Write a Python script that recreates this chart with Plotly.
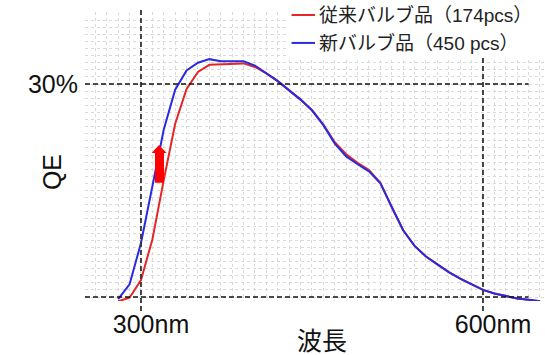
import plotly.graph_objects as go

# Wavelength samples (nm)
wavelength = [280, 290, 300, 310, 320, 330, 340, 350, 360, 370, 380, 390, 400,
              410, 420, 430, 440, 450, 460, 470, 480, 490, 500, 510, 520, 530,
              540, 550, 560, 570, 580, 590, 600, 610, 620, 630, 640, 650]

# Quantum efficiency (%) of the conventional bulb
qe_old = [-0.6, -0.1, 2.4, 8.1, 16.5, 24.4, 29.3, 31.7, 32.7, 32.8, 32.8, 32.9, 32.4,
          31.5, 30.4, 29.1, 27.8, 26.3, 24.3, 21.8, 20.1, 18.9, 17.9, 16.1, 12.6, 9.4,
          7.2, 5.7, 4.6, 3.5, 2.6, 1.8, 1.0, 0.5, 0.1, -0.2, -0.4, -0.6]

# Quantum efficiency (%) of the new bulb
qe_new = [-0.3, 1.8, 7.6, 15.5, 23.6, 29.2, 31.9, 33.0, 33.5, 33.2, 33.2, 33.2, 32.6,
          31.5, 30.4, 29.1, 27.8, 26.3, 24.2, 21.6, 19.8, 18.7, 17.7, 16.0, 12.6, 9.4,
          7.2, 5.7, 4.6, 3.5, 2.6, 1.8, 1.0, 0.5, 0.1, -0.2, -0.4, -0.6]

x_ticks = [300, 600]
x_tick_text = ["300nm", "600nm"]
y_ticks = [30]
y_tick_text = ["30%"]

legend_names = ["従来バルブ品（174pcs）", "新バルブ品（450 pcs）"]
colors = ["#e32626", "#2a2ae0"]

FONT = "Liberation Sans, Arial, Noto Sans CJK JP, sans-serif"
X_RANGE = [250.9, 654.4]
Y_RANGE = [-0.56, 40.14]

fig = go.Figure()
fig.add_trace(go.Scatter(x=wavelength, y=qe_old, mode="lines", name=legend_names[0],
                         line=dict(color=colors[0], width=2), showlegend=False))
fig.add_trace(go.Scatter(x=wavelength, y=qe_new, mode="lines", name=legend_names[1],
                         line=dict(color=colors[1], width=2), showlegend=False))

shapes = []
# reference dashed lines at 300 nm / 600 nm and 0 % / 30 %
for xv in x_ticks:
    shapes.append(dict(type="line", xref="x", yref="paper", x0=xv, x1=xv,
                       y0=-0.035, y1=1.014, layer="above",
                       line=dict(color="#333333", width=1.8, dash="5px,3px")))
for yv in [0, 30]:
    shapes.append(dict(type="line", xref="x", yref="y", x0=X_RANGE[0], x1=640,
                       y0=yv, y1=yv, layer="above",
                       line=dict(color="#111111", width=1.5, dash="5px,3px")))

# legend panel
shapes.append(dict(type="rect", xref="paper", yref="paper", x0=0.437, x1=1.0,
                   y0=0.841, y1=1.05, fillcolor="white", line=dict(width=0),
                   layer="above"))
legend_y = [0.9896, 0.893]
for c, ly in zip(colors, legend_y):
    shapes.append(dict(type="line", xref="paper", yref="paper", x0=0.449, x1=0.5,
                       y0=ly, y1=ly, layer="above", line=dict(color=c, width=2)))

# upward arrow marking the improvement
arrow_path = ("M 312.3 16.1 L 320.2 16.1 L 320.2 20.3 L 322.5 20.3 "
              "L 315.8 21.4 L 309.4 20.3 L 312.3 20.3 Z")
shapes.append(dict(type="path", xref="x", yref="y", path=arrow_path,
                   fillcolor="#ff0000", line=dict(width=0), layer="above"))

annotations = []
for name, ly in zip(legend_names, legend_y):
    annotations.append(dict(text=name, xref="paper", yref="paper", x=0.504, y=ly,
                            xanchor="left", yanchor="middle", showarrow=False,
                            font=dict(family=FONT, size=19, color="#222222")))
annotations.append(dict(text="QE", xref="paper", yref="paper", x=-0.0717, y=0.446,
                        xanchor="center", yanchor="middle", textangle=-90,
                        showarrow=False, font=dict(family=FONT, size=25, color="#111111")))
annotations.append(dict(text="波長", xref="paper", yref="paper", x=0.515, y=-0.138,
                        xanchor="center", yanchor="middle", showarrow=False,
                        font=dict(family=FONT, size=25, color="#111111")))

grid_style = dict(showgrid=True, gridcolor="#dadada", griddash="3px,3px", gridwidth=1)

fig.update_layout(
    width=545, height=355,
    margin=dict(l=85, r=0, t=12, b=54),
    paper_bgcolor="white", plot_bgcolor="white",
    font=dict(family=FONT, size=25, color="#111111"),
    shapes=shapes, annotations=annotations,
    xaxis=dict(range=X_RANGE, tickvals=x_ticks, ticktext=x_tick_text,
               showgrid=False, zeroline=False, showline=False, ticks="",
               ticklabelshift=10, ticklabelstandoff=6,
               minor=dict(dtick=10, tick0=250, **grid_style)),
    yaxis=dict(range=Y_RANGE, tickvals=y_ticks, ticktext=y_tick_text,
               showgrid=False, zeroline=False, showline=False, ticks="",
               ticklabelstandoff=6,
               minor=dict(dtick=1, tick0=0, **grid_style)),
)

fig.write_html("out.html")
